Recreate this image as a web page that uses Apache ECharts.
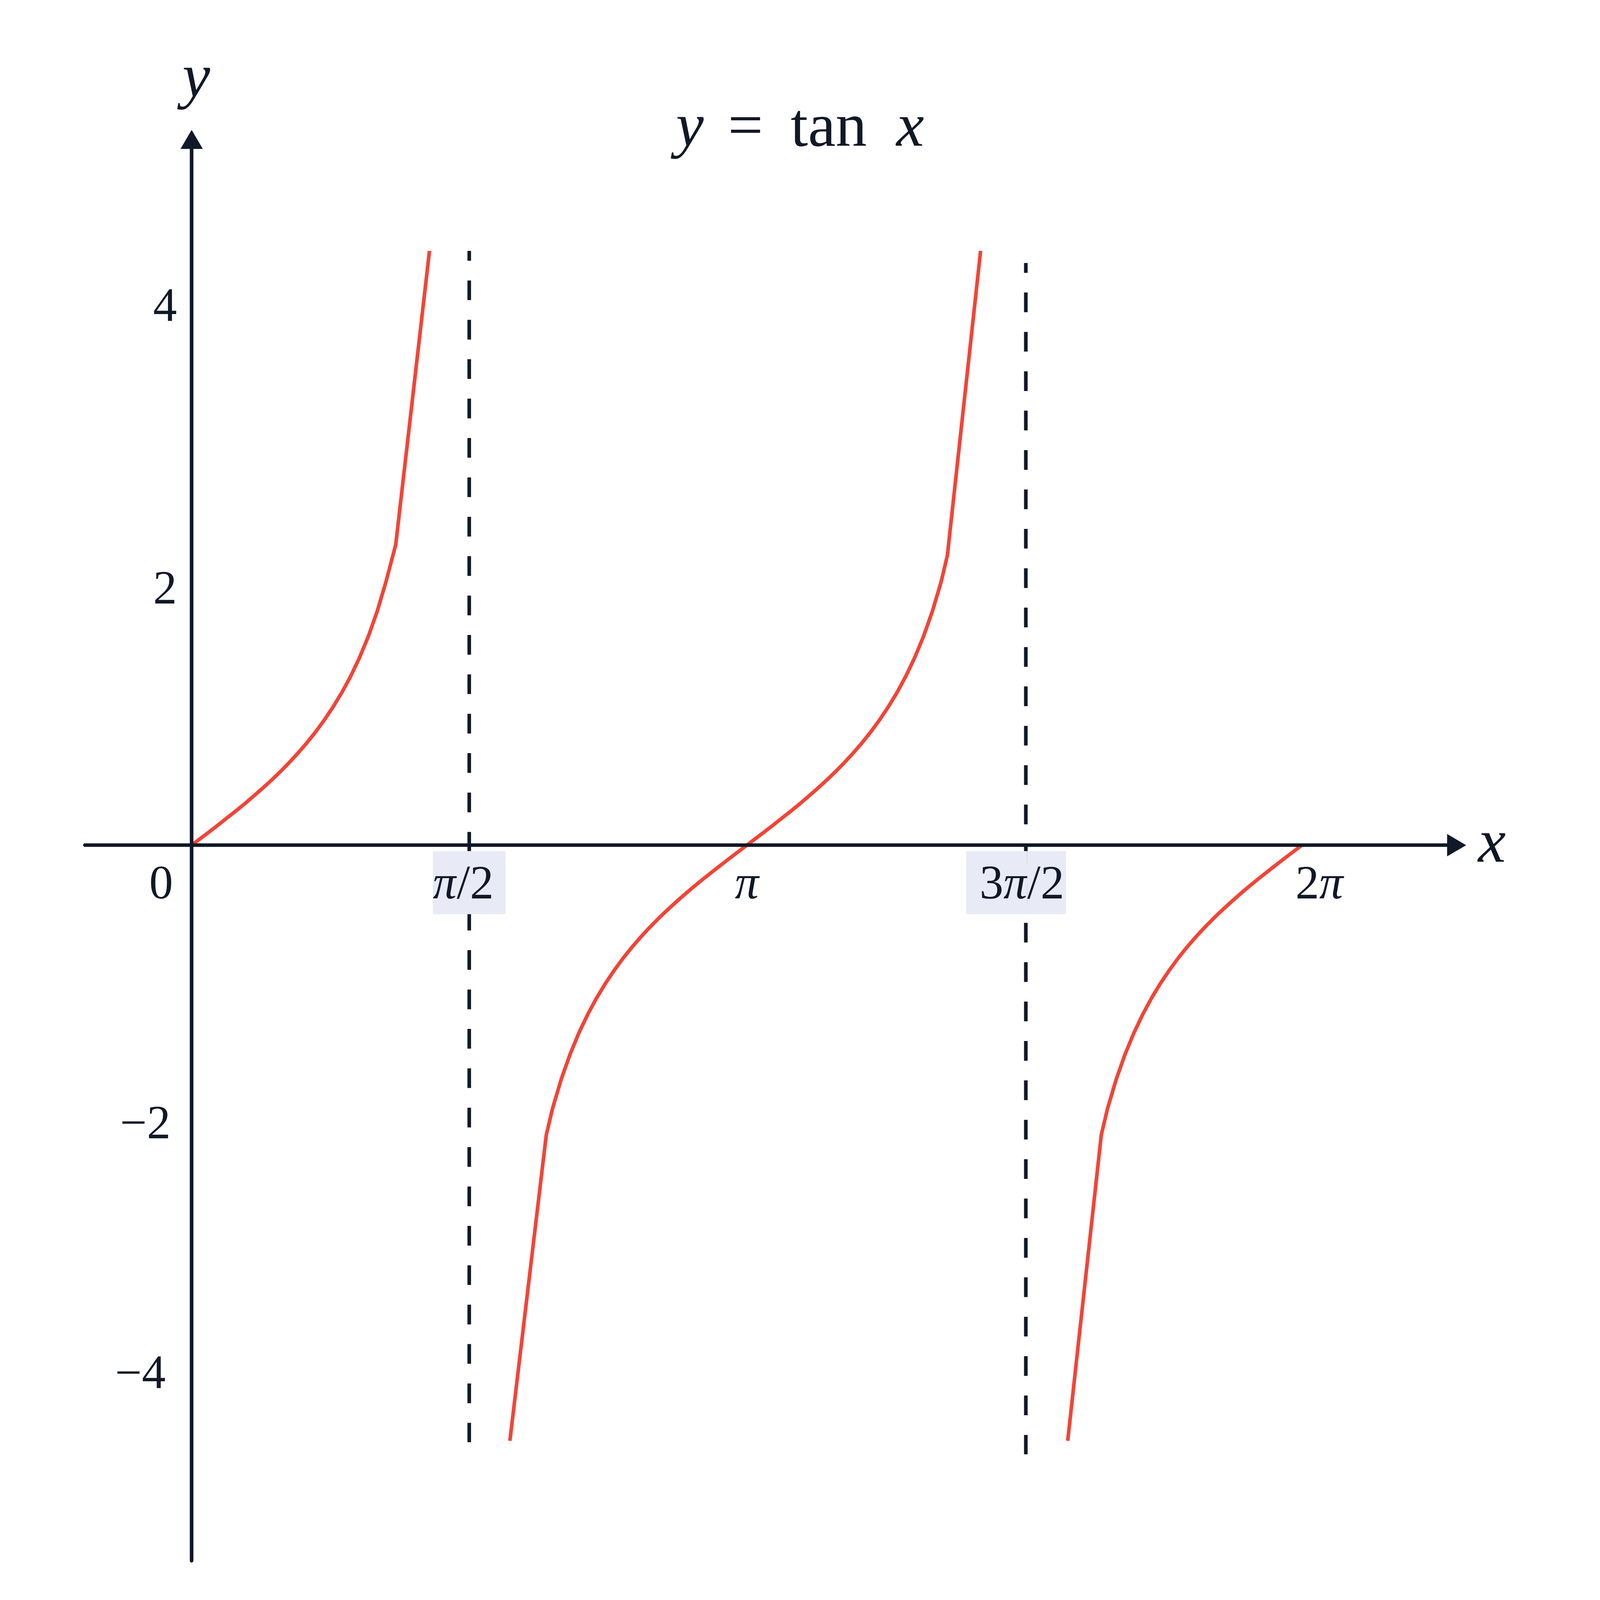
<!DOCTYPE html>
<html>
<head>
<meta charset="utf-8">
<title>y = tan x</title>
<script src="https://cdn.jsdelivr.net/npm/echarts@6/dist/echarts.min.js"></script>
<style>
  html, body { margin: 0; padding: 0; background: #ffffff; overflow: hidden; }
  #chart-container { width: 100vw; height: 100vh; }
</style>
</head>
<body>
<div id="chart-container"></div>
<script>
var dom = document.getElementById('chart-container');
var myChart = echarts.init(dom, null, { renderer: 'canvas' });

// curve points, one branch per pair of arrays
var branch1X = [0, 0.05, 0.1, 0.15, 0.2, 0.25, 0.3, 0.35, 0.4, 0.45, 0.5, 0.55, 0.6, 0.65, 0.7, 0.75, 0.8, 0.85, 0.9, 0.95,
  1.0, 1.05, 1.1, 1.155, 1.346];
var branch1Y = [0, 0.050, 0.100, 0.151, 0.203, 0.255, 0.309, 0.365, 0.423, 0.483, 0.546, 0.613, 0.684, 0.760, 0.842, 0.932,
  1.030, 1.138, 1.260, 1.398, 1.557, 1.743, 1.965, 2.24, 4.43];

var branch2X = [1.801, 2.007, 2.042, 2.092, 2.142, 2.192, 2.242, 2.292, 2.342, 2.392, 2.442, 2.492, 2.542, 2.592, 2.642, 2.692,
  2.742, 2.792, 2.842, 2.892, 2.942, 2.992, 3.042, 3.092, 3.142, 3.192, 3.242, 3.292, 3.342, 3.392, 3.442, 3.492, 3.542,
  3.592, 3.642, 3.692, 3.742, 3.792, 3.842, 3.892, 3.942, 3.992, 4.042, 4.092, 4.142, 4.192, 4.242, 4.277, 4.465];
var branch2Y = [-4.44, -2.16, -1.965, -1.743, -1.557, -1.398, -1.260, -1.138, -1.030, -0.932, -0.842, -0.760, -0.684, -0.613,
  -0.546, -0.483, -0.423, -0.365, -0.309, -0.255, -0.203, -0.151, -0.100, -0.050, 0, 0.050, 0.100, 0.151, 0.203, 0.255,
  0.309, 0.365, 0.423, 0.483, 0.546, 0.613, 0.684, 0.760, 0.842, 0.932, 1.030, 1.138, 1.260, 1.398, 1.557, 1.743, 1.965,
  2.16, 4.43];

var branch3X = [4.958, 5.148, 5.183, 5.233, 5.283, 5.333, 5.383, 5.433, 5.483, 5.533, 5.583, 5.633, 5.683, 5.733, 5.783,
  5.833, 5.883, 5.933, 5.983, 6.033, 6.083, 6.133, 6.183, 6.233, 6.283];
var branch3Y = [-4.44, -2.16, -1.965, -1.743, -1.557, -1.398, -1.260, -1.138, -1.030, -0.932, -0.842, -0.760, -0.684, -0.613,
  -0.546, -0.483, -0.423, -0.365, -0.309, -0.255, -0.203, -0.151, -0.100, -0.050, 0];

// vertical asymptotes (dashed)
var asymptoteX = [1.571, 4.721];
var asymptoteTop = [4.43, 4.34];
var asymptoteBottom = [-4.45, -4.54];

// axis ranges and tick labels
var xRange = [-0.604, 7.159];
var yRange = [-5.334, 5.261];
var xTickValues = [0, Math.PI / 2, Math.PI, 3 * Math.PI / 2, 2 * Math.PI];
var xTickLabels = ['0', 'π/2', 'π', '3π/2', '2π'];
var yTickValues = [4, 2, -2, -4];
var yTickLabels = ['4', '2', '−2', '−4'];

var INK = '#111827';
var RED = '#f44336';
var BG = '#e8eaf6';
var SERIF = '"Liberation Serif", "DejaVu Serif", serif';

// the layout was measured on a 5200 x 4568 canvas, scale it to the real one
var W = dom.clientWidth, H = dom.clientHeight;
var sx = W / 5200, sy = H / 4568, s = Math.sqrt(sx * sy);
function px(v) { return v * s; }
function pad(a) { return a.map(px); }

var grid = { left: 276 * sx, right: 466 * sx, top: 398 * sy, bottom: 112 * sy };
var plotW = W - grid.left - grid.right;
var plotH = H - grid.top - grid.bottom;
// move the axes onto the zero lines of each other
var zeroX = grid.left + (0 - xRange[0]) / (xRange[1] - xRange[0]) * plotW;
var zeroY = grid.top + (yRange[1] - 0) / (yRange[1] - yRange[0]) * plotH;
var xAxisOffset = zeroY - (H - grid.bottom);
var yAxisOffset = grid.left - zeroX;

function zip(xs, ys) {
  var out = [];
  for (var i = 0; i < xs.length; i++) out.push([xs[i], ys[i]]);
  return out;
}

function nearestIndex(values, v) {
  var best = 0;
  for (var i = 1; i < values.length; i++) {
    if (Math.abs(values[i] - v) < Math.abs(values[best] - v)) best = i;
  }
  return best;
}

// rich strings for the tick labels (pi in italic, two labels on a tinted box)
var xLabelRich = {
  '0': '{zero|0}',
  'π/2': '{bgPi|π}{bgTail|/2}',
  'π': '{pi|π}',
  '3π/2': '{bgHead|3}{bgPi|π}{bgTail2|/2}{gap| }',
  '2π': '{two|2}{pi|π}'
};
var yLabelRich = {
  '4': '{y4|4}',
  '2': '{y2|2}',
  '−2': '{ym2|−2}',
  '−4': '{ym4|−4}'
};

function txt(extra) {
  return Object.assign({
    fontFamily: SERIF,
    fontSize: px(145),
    lineHeight: px(145),
    fontWeight: 'normal',
    color: INK
  }, extra);
}

function big(extra) {
  return Object.assign({
    fontFamily: SERIF,
    fontSize: px(190),
    fontWeight: 'normal',
    color: INK
  }, extra);
}

var branchSeries = [zip(branch1X, branch1Y), zip(branch2X, branch2Y), zip(branch3X, branch3Y)].map(function (d) {
  return {
    type: 'line',
    data: d,
    symbol: 'none',
    showSymbol: false,
    smooth: false,
    silent: true,
    z: 2,
    lineStyle: { color: RED, width: px(11), join: 'round' }
  };
});

var asymptoteSeries = asymptoteX.map(function (x, i) {
  return {
    type: 'line',
    data: [[x, asymptoteTop[i]], [x, asymptoteBottom[i]]],
    symbol: 'none',
    showSymbol: false,
    silent: true,
    z: 2,
    lineStyle: { color: INK, width: px(11), type: [px(60), px(60)], dashOffset: px(30) }
  };
});

var axisLineStyle = {
  show: true,
  onZero: false,
  symbol: ['none', 'triangle'],
  symbolSize: [px(68), px(58)],
  lineStyle: { color: INK, width: px(11) }
};

var xPad = [33, 0, 14, 0];
function xp(l, r) { return pad([xPad[0], r, xPad[2], l]); }

var option = {
  animation: false,
  backgroundColor: '#ffffff',
  title: {
    text: '{y|y}{eq|=}{tan|tan}{x|x}',
    left: 'center',
    top: 280 * sy,
    padding: 0,
    textStyle: big({
      rich: {
        y: big({ fontStyle: 'italic', padding: pad([0, 74, 0, 0]) }),
        eq: big({ padding: pad([0, 84, 0, 0]) }),
        tan: big({ padding: pad([0, 90, 0, 0]) }),
        x: big({ fontStyle: 'italic' })
      }
    })
  },
  grid: {
    left: grid.left,
    right: grid.right,
    top: grid.top,
    bottom: grid.bottom,
    containLabel: false,
    outerBoundsMode: 'none'
  },
  xAxis: {
    type: 'value',
    min: xRange[0],
    max: xRange[1],
    position: 'bottom',
    offset: xAxisOffset,
    z: 10,
    name: 'x',
    nameLocation: 'end',
    nameGap: 70 * sx,
    nameMoveOverlap: false,
    nameTextStyle: big({ fontStyle: 'italic', padding: pad([0, 0, 24, 0]) }),
    axisLine: axisLineStyle,
    axisTick: { show: false },
    splitLine: { show: false },
    axisLabel: {
      show: true,
      customValues: xTickValues,
      margin: 39 * sy,
      fontFamily: SERIF,
      fontSize: px(145),
      color: INK,
      formatter: function (v) {
        return xLabelRich[xTickLabels[nearestIndex(xTickValues, v)]];
      },
      rich: {
        zero: txt({ padding: xp(0, 186) }),
        pi: txt({ fontStyle: 'italic', padding: xp(0, 0) }),
        two: txt({ padding: xp(106, 0) }),
        bgPi: txt({ fontStyle: 'italic', backgroundColor: BG, padding: xp(0, 0) }),
        bgTail: txt({ backgroundColor: BG, padding: xp(0, 36) }),
        bgHead: txt({ backgroundColor: BG, padding: xp(41, 0) }),
        bgTail2: txt({ backgroundColor: BG, padding: xp(0, 5) }),
        gap: txt({ padding: xp(0, 14) })
      }
    }
  },
  yAxis: {
    type: 'value',
    min: yRange[0],
    max: yRange[1],
    position: 'left',
    offset: yAxisOffset,
    z: 10,
    name: 'y',
    nameLocation: 'end',
    nameGap: 169 * sy,
    nameMoveOverlap: false,
    nameTextStyle: big({
      fontStyle: 'italic',
      align: 'center',
      verticalAlign: 'middle',
      padding: pad([0, 0, 0, 28])
    }),
    axisLine: axisLineStyle,
    axisTick: { show: false },
    splitLine: { show: false },
    axisLabel: {
      show: true,
      customValues: yTickValues,
      margin: 48 * sx,
      fontFamily: SERIF,
      fontSize: px(145),
      color: INK,
      formatter: function (v) {
        return yLabelRich[yTickLabels[nearestIndex(yTickValues, v)]];
      },
      rich: {
        y4: txt({ padding: pad([0, 0, 0, 0]) }),
        y2: txt({ padding: pad([86, 0, 0, 0]) }),
        ym2: txt({ padding: pad([74, 19, 0, 0]) }),
        ym4: txt({ padding: pad([0, 34, 36, 0]) })
      }
    }
  },
  series: branchSeries.concat(asymptoteSeries)
};

if (option && typeof option === 'object') {
  myChart.setOption(option);
}

window.addEventListener('resize', myChart.resize);
</script>
</body>
</html>
